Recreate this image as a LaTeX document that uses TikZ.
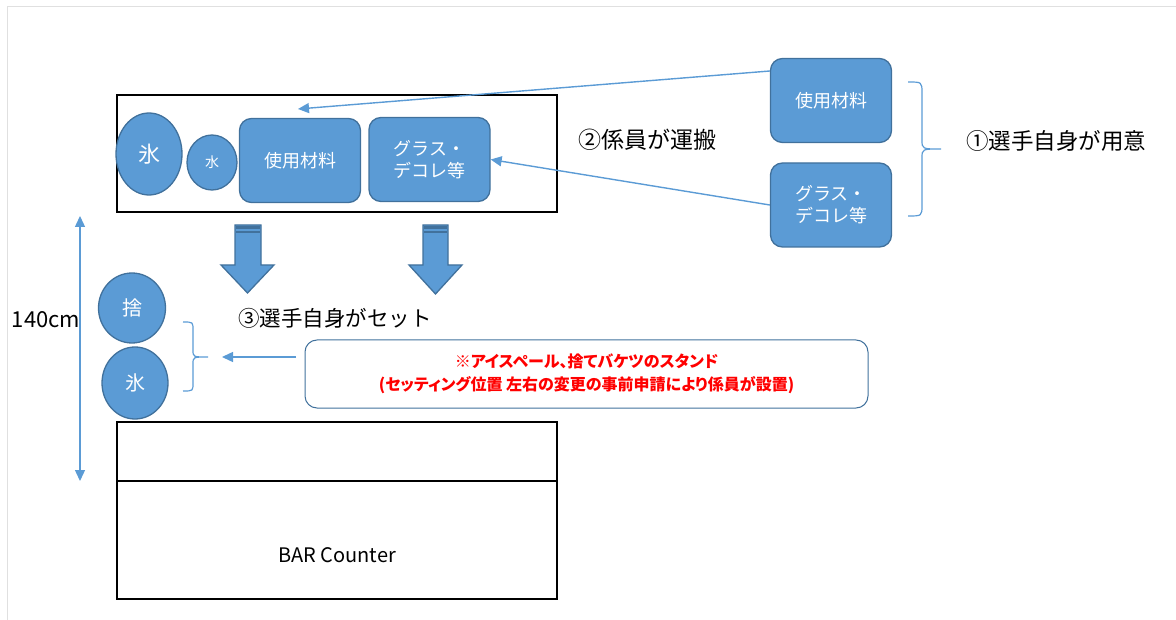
\documentclass[tikz,border=0pt]{standalone}
\usepackage{fontspec}
\setmainfont{Noto Sans CJK JP}
\usetikzlibrary{arrows.meta,shapes.geometric}
\definecolor{fillblue}{HTML}{5B9BD5}
\definecolor{edgeblue}{HTML}{41719C}
\definecolor{redtext}{HTML}{FF0000}
\newcommand{\fs}[1]{\fontsize{#1}{#1}\selectfont}
\begin{document}
\begin{tikzpicture}[x=1pt,y=-1pt,
  blk/.style={fill=fillblue,draw=edgeblue,line width=1.3pt,text=white,align=center,inner sep=0pt},
  rbox/.style={blk,rounded corners=12pt,font=\fs{18},minimum width=121pt,minimum height=84pt},
  oval/.style={blk,ellipse},
  conn/.style={draw=fillblue,line width=1.4pt},
  tip/.style={-{Triangle[length=11pt,width=10pt]}},
  frame/.style={draw=black,line width=1.8pt,inner sep=0pt},
  lbl/.style={inner sep=0pt,text=black}]
\useasboundingbox (0,0) rectangle (1176,620);
\draw[black!12,line width=1pt] (7,620) -- (7,7) -- (1176,7);

% top tray
\node[frame,minimum width=440pt,minimum height=117pt] (tray) at (337,153.5) {};
\node[oval,minimum width=66pt,minimum height=82pt,font=\fs{22}] (ice1) at (149,154) {氷};
\node[oval,minimum width=50pt,minimum height=55pt,font=\fs{14}] (water) at (212,162.5) {水};
\node[rbox] (mat1) at (300,160.5) {使用材料};
\node[rbox] (deco1) at (429.5,159.5) {グラス・\\[4pt]デコレ等};

% right side items
\node[rbox] (mat2) at (831,100.5) {使用材料};
\node[rbox] (deco2) at (831,205) {グラス・\\[4pt]デコレ等};
\draw[conn,line width=1.2pt] (908,82) .. controls (922,82) .. (922,93) -- (922,140)
  .. controls (922,149) .. (941,149) .. controls (922,149) .. (922,158) -- (922,205)
  .. controls (922,216) .. (908,216);
\node[lbl,font=\fs{22.5}] (prep) at (1056,141) {①選手自身が用意};
\node[lbl,font=\fs{23}] (carry) at (647,140) {②係員が運搬};

% connectors
\coordinate (t1) at (298,109);
\draw[conn,tip] ([yshift=29.5pt]mat2.west) -- (t1);
\draw[conn,tip] (deco2.west) -- (deco1.east);

% block arrows
\path[blk] (235,225) -- (261,225) -- (261,265) -- (274,265) -- (247.5,293) -- (221,265) -- (235,265) -- cycle;
\fill[edgeblue] (235.6,225.6) rectangle (260.4,229.5);
\fill[edgeblue] (235.6,231.5) rectangle (260.4,233.5);
\path[blk] (423,225) -- (448,225) -- (448,265) -- (462,265) -- (435.5,294) -- (409,265) -- (423,265) -- cycle;
\fill[edgeblue] (423.6,225.6) rectangle (447.4,229.5);
\fill[edgeblue] (423.6,231.5) rectangle (447.4,233.5);
\node[lbl,font=\fs{21.5}] (set) at (335,318) {③選手自身がセット};

% dimension
\coordinate (dtop) at (80,216);
\coordinate (dbot) at (80,481);
\draw[conn,{Triangle[length=11pt,width=10pt]}-{Triangle[length=11pt,width=10pt]}] (dtop) -- (dbot);
\node[lbl,font=\fs{22}] (dim) at (46,320) {140cm};

% stand
\node[oval,minimum width=67pt,minimum height=70pt,font=\fs{20}] (waste) at (132,308) {捨};
\node[oval,minimum width=66pt,minimum height=72pt,font=\fs{20}] (ice2) at (135,383) {氷};
\draw[conn,line width=1.2pt] (183,322) .. controls (193,322) .. (193,330) -- (193,350)
  .. controls (193,357) .. (208,357) .. controls (193,357) .. (193,364) -- (193,383)
  .. controls (193,391) .. (183,391);
\node[draw=edgeblue,line width=1pt,rounded corners=12pt,minimum width=563pt,minimum height=68pt,
  text=redtext,align=center,font=\bfseries\fs{16}\addfontfeatures{RawFeature=+palt},inner sep=0pt] (note) at (586.5,374)
  {※アイスペール、捨てバケツのスタンド\\[7pt](セッティング位置 左右の変更の事前申請により係員が設置)};
\coordinate (nstart) at (296,357);
\coordinate (nend) at (222,357);
\draw[conn,tip] (nstart) -- (nend);

% bar counter
\node[frame,minimum width=440pt,minimum height=177pt] (counter) at (337,510.5) {};
\draw[black,line width=1.8pt] (117,481) -- (557,481);
\node[lbl,font=\fs{20}] (bar) at (337,555) {BAR Counter};
\end{tikzpicture}
\end{document}
